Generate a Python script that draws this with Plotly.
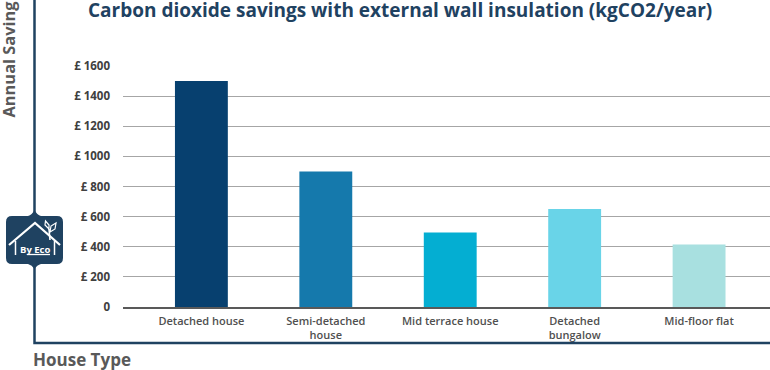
import plotly.graph_objects as go

categories = ["Detached house", "Semi-detached<br>house", "Mid terrace house", "Detached<br>bungalow", "Mid-floor flat"]
savings = [1500, 900, 495, 650, 415]
bar_colors = ["#07406F", "#1579AC", "#04AED2", "#69D4E8", "#A8E0E0"]
y_ticks = [0, 200, 400, 600, 800, 1000, 1200, 1400, 1600]
y_labels = ["0", "£ 200", "£ 400", "£ 600", "£ 800", "£ 1000", "£ 1200", "£ 1400", "£ 1600"]

W, H = 770, 370
L, R, T, B = 123, 770, 66, 307
NAVY = "#1F4261"
FONT = "Open Sans"

def px(x):
    return (x - L) / (R - L)

def py(y):
    return (B - y) / (B - T)

def path(points, close=False):
    s = "M " + " L ".join(f"{px(x):.5f},{py(y):.5f}" for x, y in points)
    return s + (" Z" if close else "")

def line_shape(points, color, width):
    return dict(type="path", xref="paper", yref="paper", path=path(points),
                line=dict(color=color, width=width), layer="above")

def blob():
    def P(x, y):
        return f"{px(x):.5f},{py(y):.5f}"
    return ("M " + P(12, 216) + " L " + P(28, 216) + " Q " + P(32, 215) + " " + P(34.5, 210)
            + " Q " + P(37, 215) + " " + P(41, 216) + " L " + P(57, 216)
            + " Q " + P(63, 216) + " " + P(63, 222) + " L " + P(63, 258)
            + " Q " + P(63, 264) + " " + P(57, 264) + " L " + P(41, 264)
            + " Q " + P(37, 265) + " " + P(34.5, 269) + " Q " + P(32, 265) + " " + P(28, 264)
            + " L " + P(12, 264) + " Q " + P(6, 264) + " " + P(6, 258) + " L " + P(6, 222)
            + " Q " + P(6, 216) + " " + P(12, 216) + " Z")

shapes = [
    line_shape([(34.5, 0), (34.5, 343), (770, 343)], NAVY, 2.5),
    dict(type="path", xref="paper", yref="paper", path=blob(),
         fillcolor=NAVY, line=dict(color=NAVY, width=0), layer="above"),
    line_shape([(9, 245), (35, 223), (60, 245)], "white", 2.2),
    line_shape([(15.5, 241), (15.5, 255)], "white", 1.5),
    line_shape([(54.5, 241), (54.5, 255)], "white", 1.5),
    line_shape([(27, 254.5), (50, 254.5)], "white", 1.3),
    line_shape([(49, 229), (50, 240)], "white", 1.6),
    dict(type="path", xref="paper", yref="paper",
         path=path([(49, 229), (45, 225), (45.5, 221), (49, 225)], True),
         fillcolor=NAVY, line=dict(color="white", width=1.2), layer="above"),
    dict(type="path", xref="paper", yref="paper",
         path=path([(50, 232), (51, 226), (56, 223), (55, 229)], True),
         fillcolor=NAVY, line=dict(color="white", width=1.2), layer="above"),
]

annotations = [
    dict(text="<b>Carbon dioxide savings with external wall insulation (kgCO2/year)</b>",
         xref="paper", yref="paper", x=px(400), y=py(10), xanchor="center", yanchor="middle",
         showarrow=False, font=dict(family=FONT, size=19, color=NAVY)),
    dict(text="<b>Annual Saving</b>", textangle=-90,
         xref="paper", yref="paper", x=px(8), y=py(120), xanchor="center", yanchor="bottom",
         showarrow=False, font=dict(family=FONT, size=16.4, color="#595959")),
    dict(text="<b>House Type</b>",
         xref="paper", yref="paper", x=px(31), y=py(359), xanchor="left", yanchor="middle",
         showarrow=False, font=dict(family=FONT, size=17, color="#595959")),
    dict(text="<b>By Eco</b>",
         xref="paper", yref="paper", x=px(35), y=py(249), xanchor="center", yanchor="middle",
         showarrow=False, font=dict(family=FONT, size=9.5, color="white")),
]

fig = go.Figure(go.Bar(x=categories, y=savings, marker=dict(color=bar_colors, line=dict(width=0)), width=0.425))

fig.update_layout(
    width=W, height=H, autosize=False,
    margin=dict(l=L, r=W - R, t=T, b=H - B, pad=0),
    paper_bgcolor="white", plot_bgcolor="white",
    showlegend=False, shapes=shapes, annotations=annotations,
    font=dict(family=FONT),
)
fig.update_xaxes(
    type="category", range=[-0.63, 4.57], showgrid=False, zeroline=False,
    showline=True, linecolor="#595959", linewidth=1.5, ticks="",
    ticklabelstandoff=3,
    tickangle=0, tickfont=dict(family=FONT, size=11, color="#505050", weight=600),
)
fig.update_yaxes(
    range=[0, 1600], tickvals=y_ticks, ticktext=y_labels, showgrid=True,
    gridcolor="#A6A6A6", gridwidth=1, zeroline=False, showline=False, ticks="",
    ticklabelstandoff=12,
    tickfont=dict(family=FONT, size=11.5, color="#404040", weight="bold"),
)

fig.write_html(
    "out.html",
    config=dict(displayModeBar=False),
    post_script="document.body.style.margin='0';document.documentElement.style.overflow='hidden';",
)
